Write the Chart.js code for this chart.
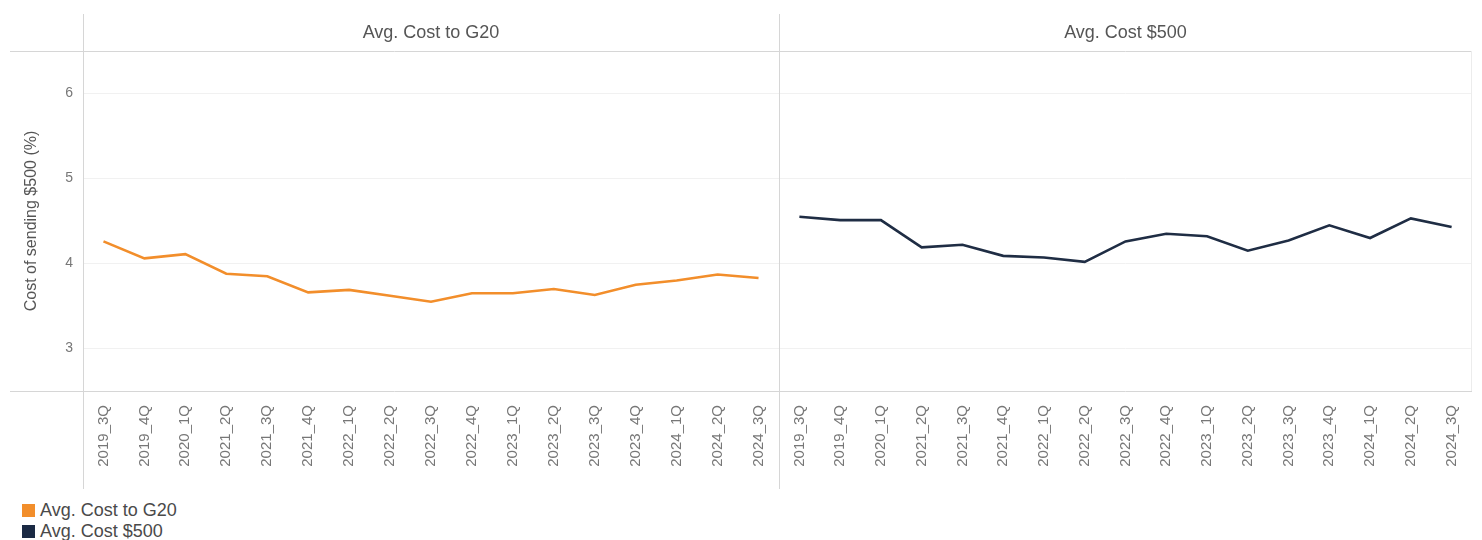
<!DOCTYPE html>
<html>
<head>
<meta charset="utf-8">
<script src="https://cdn.jsdelivr.net/npm/chart.js@4"></script>
<style>
  body { margin: 0; background: #fff; font-family: "Liberation Sans", Arial, sans-serif; }
  #wrap { position: relative; width: 1482px; height: 540px; overflow: hidden; }
  #leftChart { position: absolute; left: 0; top: 0; }
  #rightChart { position: absolute; left: 779px; top: 0; }
  .legend { position: absolute; left: 22px; top: 500px; font-size: 18px; color: #4a4a4a; line-height: 21px; }
  .legend div { display: flex; align-items: center; }
  .legend span { display: inline-block; width: 13px; height: 13px; margin-right: 5px; }
</style>
</head>
<body>
<div id="wrap">
  <canvas id="leftChart" width="779" height="490"></canvas>
  <canvas id="rightChart" width="703" height="490"></canvas>
  <div class="legend">
    <div><span style="background:#F28E2B"></span>Avg. Cost to G20</div>
    <div><span style="background:#1B2A44"></span>Avg. Cost $500</div>
  </div>
</div>
<script>
const quarters = ['2019_3Q', '2019_4Q', '2020_1Q', '2021_2Q', '2021_3Q', '2021_4Q', '2022_1Q', '2022_2Q', '2022_3Q',
  '2022_4Q', '2023_1Q', '2023_2Q', '2023_3Q', '2023_4Q', '2024_1Q', '2024_2Q', '2024_3Q'];
const costToG20 = [4.26, 4.06, 4.11, 3.88, 3.85, 3.66, 3.69, 3.62, 3.55, 3.65, 3.65, 3.70, 3.63, 3.75, 3.80, 3.87, 3.83];
const cost500 = [4.55, 4.51, 4.51, 4.19, 4.22, 4.09, 4.07, 4.02, 4.26, 4.35, 4.32, 4.15, 4.27, 4.45, 4.30, 4.53, 4.43];
const yTicks = [3, 4, 5, 6];
const panelTitles = ['Avg. Cost to G20', 'Avg. Cost $500'];

const FONT = '"Liberation Sans", Arial, sans-serif';
const lineCol = '#d6d6d6';

// header text and panel frame lines
const framePlugin = {
  id: 'frame',
  afterDraw(chart, args, opts) {
    const ctx = chart.ctx;
    const a = chart.chartArea;
    ctx.save();
    ctx.strokeStyle = lineCol;
    ctx.lineWidth = 1;
    ctx.beginPath();
    ctx.moveTo(opts.x0, 51.5); ctx.lineTo(a.right, 51.5);
    ctx.moveTo(opts.x0, a.bottom + 0.5); ctx.lineTo(a.right, a.bottom + 0.5);
    ctx.moveTo(a.left + 0.5, 14); ctx.lineTo(a.left + 0.5, 489);
    ctx.stroke();
    if (opts.rightEdge) {
      ctx.strokeStyle = '#ececec';
      ctx.beginPath();
      ctx.moveTo(a.right - 0.5, 51); ctx.lineTo(a.right - 0.5, a.bottom);
      ctx.stroke();
    }
    ctx.fillStyle = '#555';
    ctx.font = '18px ' + FONT;
    ctx.textAlign = 'center';
    ctx.textBaseline = 'middle';
    ctx.fillText(opts.title, (a.left + a.right) / 2, 33);
    ctx.restore();
  }
};

function makeChart(id, values, color, title, showY, x0, rightPad) {
  const ctx = document.getElementById(id).getContext('2d');
  return new Chart(ctx, {
    type: 'line',
    data: {
      labels: quarters,
      datasets: [{
        label: title,
        data: values,
        borderColor: color,
        borderWidth: 2.6,
        pointRadius: 0,
        tension: 0,
        fill: false
      }]
    },
    options: {
      responsive: false,
      animation: false,
      devicePixelRatio: 1,
      layout: { padding: { top: 51, left: 0, right: rightPad, bottom: 0 } },
      plugins: {
        legend: { display: false },
        tooltip: { enabled: false },
        frame: { title: title, x0: x0, rightEdge: !showY }
      },
      scales: {
        x: {
          offset: true,
          grid: { display: false },
          border: { display: false },
          ticks: {
            autoSkip: false,
            minRotation: 90,
            maxRotation: 90,
            padding: 6,
            color: '#777',
            font: { family: FONT, size: 15 }
          },
          afterFit: s => { s.height = 99; s.paddingLeft = 0; s.paddingRight = 0; }
        },
        y: {
          display: true,
          min: 2.5,
          max: 6.5,
          afterBuildTicks: s => { s.ticks = yTicks.map(v => ({ value: v })); },
          grid: { color: '#f1f1f1', drawTicks: false },
          border: { display: false },
          ticks: {
            display: showY,
            padding: 10,
            color: '#777',
            font: { family: FONT, size: 14 }
          },
          title: {
            display: showY,
            text: 'Cost of sending $500 (%)',
            color: '#555',
            font: { family: FONT, size: 16 },
            padding: { top: 22, bottom: 0 }
          },
          afterFit: s => { s.width = showY ? 83 : 0; s.paddingTop = 0; s.paddingBottom = 0; }
        }
      }
    },
    plugins: [framePlugin]
  });
}

makeChart('leftChart', costToG20, '#F28E2B', panelTitles[0], true, 10, 0);
makeChart('rightChart', cost500, '#1F2D44', panelTitles[1], false, 0, 10);
</script>
</body>
</html>
